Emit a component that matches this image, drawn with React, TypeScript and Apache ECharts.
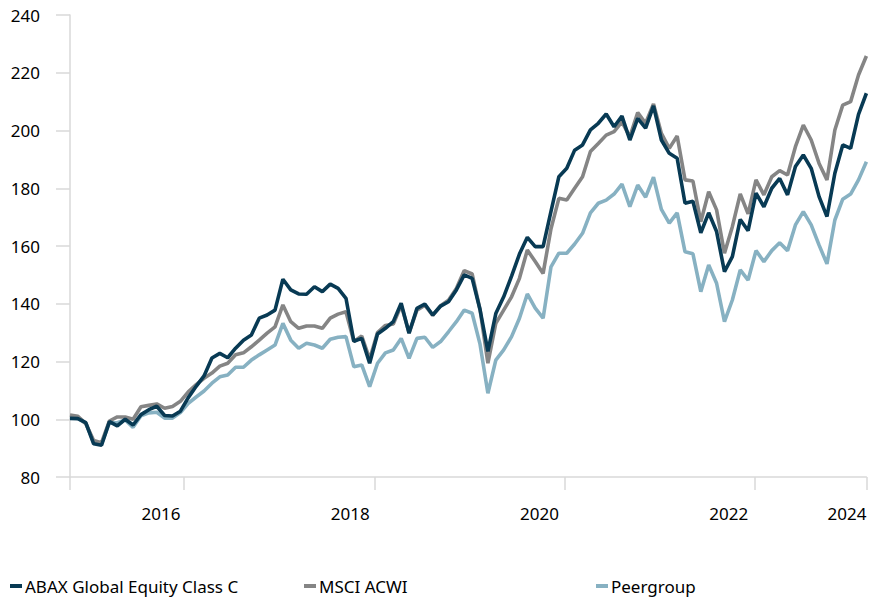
import React, { useEffect, useRef } from "react";
import * as echarts from "echarts";

const seriesNames = ["ABAX Global Equity Class C", "MSCI ACWI", "Peergroup"];

const abax = [
  100.3, 100.2, 98.8, 91.5, 91.0, 99.2, 97.7, 100.0, 98.0, 101.6, 103.3, 104.5, 101.3, 101.1, 102.8, 107.5,
  111.4, 115.0, 121.2, 122.8, 121.3, 124.6, 127.4, 129.2, 135.0, 136.1, 137.8, 148.5, 144.8, 143.4, 143.3,
  145.9, 144.2, 146.8, 145.3, 141.9, 127.0, 128.0, 119.4, 129.5, 131.5, 133.8, 140.2, 129.8, 138.4, 139.9,
  136.1, 139.2, 140.7, 144.8, 150.0, 148.8, 138.0, 123.5, 136.6, 142.4, 149.6, 157.2, 163.0, 159.8, 159.8,
  172.0, 184.0, 186.9, 193.2, 195.0, 200.2, 202.5, 205.7, 201.3, 205.0, 196.7, 204.2, 200.8, 208.5, 196.7,
  192.1, 190.4, 174.8, 175.5, 164.6, 171.5, 165.0, 151.1, 156.3, 169.2, 165.3, 178.3, 173.6, 180.0, 183.4,
  177.7, 187.5, 191.5, 186.9, 177.1, 170.2, 185.2, 195.0, 193.8, 205.6, 212.9,
];

const msci = [
  101.5, 101.0, 98.5, 92.6, 91.9, 99.4, 100.8, 100.8, 100.0, 104.3, 104.8, 105.3, 103.8, 104.4, 106.2, 109.5,
  112.0, 114.2, 116.0, 118.4, 119.4, 122.3, 123.0, 125.1, 127.4, 129.8, 132.0, 139.6, 133.8, 131.5, 132.3,
  132.3, 131.5, 135.0, 136.4, 137.2, 126.9, 128.8, 120.8, 130.0, 132.5, 133.0, 139.5, 130.0, 137.8, 139.5,
  136.0, 139.3, 141.2, 145.3, 151.5, 150.3, 138.0, 119.4, 133.2, 137.8, 142.4, 148.8, 158.6, 154.6, 150.5,
  166.0, 176.5, 175.9, 180.0, 184.0, 192.7, 195.5, 198.4, 199.6, 203.0, 197.8, 206.2, 202.5, 209.2, 199.0,
  193.8, 198.1, 182.9, 182.5, 168.4, 178.8, 172.5, 157.5, 166.7, 178.0, 171.1, 182.9, 177.7, 184.0, 186.1,
  184.6, 194.4, 201.9, 196.7, 188.6, 182.9, 200.2, 208.8, 210.0, 219.2, 225.8,
];

const peergroup = [
  100.8, 100.3, 98.6, 92.0, 91.5, 98.8, 98.8, 99.8, 97.2, 101.2, 102.2, 102.4, 100.4, 100.4, 102.3, 105.5,
  107.7, 109.8, 112.5, 114.7, 115.3, 118.0, 118.0, 120.5, 122.3, 124.0, 125.7, 133.2, 127.4, 124.6, 126.3,
  125.7, 124.6, 127.7, 128.4, 128.6, 118.2, 118.8, 111.3, 119.4, 123.0, 124.0, 128.0, 121.1, 128.0, 128.4,
  124.9, 126.9, 130.3, 133.8, 137.8, 136.7, 126.0, 109.0, 120.5, 124.0, 128.6, 135.0, 143.4, 138.5, 135.0,
  152.8, 157.5, 157.5, 160.7, 164.4, 171.5, 174.8, 175.9, 178.0, 181.4, 173.6, 181.1, 176.9, 183.8, 172.7,
  167.9, 171.5, 158.0, 157.3, 144.2, 153.4, 147.1, 133.8, 141.3, 151.7, 148.2, 158.4, 154.6, 158.4, 161.1,
  158.4, 167.3, 171.9, 167.3, 160.3, 153.8, 169.0, 176.2, 178.0, 182.9, 189.2,
];

// x-axis: month index; year labels and tick marks
const yearLabelIndex = [14, 38, 62, 86, 101];
const yearLabels = ["2016", "2018", "2020", "2022", "2024"];
const tickIndex = [0, 14.4, 38.6, 62.7, 86.8, 101];
const yTicks = { min: 80, max: 240, interval: 20 };

const colors = ["#083A54", "#858585", "#87B1C2"];

export default function App() {
  const ref = useRef<HTMLDivElement>(null);

  useEffect(() => {
    document.body.style.margin = "0";
    const chart = echarts.init(ref.current!, null, { renderer: "svg" });
    const font = "'Noto Sans', sans-serif";
    const toPairs = (arr: number[]) => arr.map((v, i) => [i, v]);
    const all = [abax, msci, peergroup];
    const axisColor = "#D9D9D9";

    const legendLefts = [10, 304, 596];

    chart.setOption({
      animation: false,
      grid: { left: 70, right: 11.6, top: 15, bottom: 121, containLabel: false },
      legend: seriesNames.map((n, k) => ({
        data: [n],
        left: legendLefts[k],
        top: 576,
        padding: 0,
        icon: "rect",
        itemWidth: 12,
        itemHeight: 4,
        selectedMode: false,
        textStyle: { fontFamily: font, fontSize: 17, color: "#000", padding: [0, 0, 0, -2], lineHeight: 20 },
      })),
      xAxis: {
        type: "value",
        min: 0,
        max: abax.length - 1,
        splitLine: { show: false },
        axisLine: { show: true, lineStyle: { color: axisColor, width: 1.5 } },
        axisTick: {
          show: true,
          length: 13,
          customValues: tickIndex,
          lineStyle: { color: axisColor, width: 1.5 },
        },
        axisLabel: {
          customValues: yearLabelIndex,
          formatter: (v: number) => {
            const k = yearLabelIndex.indexOf(Math.round(v));
            return k >= 0 ? yearLabels[k] : "";
          },
          align: "right",
          margin: 28,
          fontFamily: font,
          fontSize: 17,
          color: "#000",
          hideOverlap: false,
        },
      },
      yAxis: {
        type: "value",
        min: yTicks.min,
        max: yTicks.max,
        interval: yTicks.interval,
        splitLine: { show: false },
        axisLine: { show: true, lineStyle: { color: axisColor, width: 1.5 } },
        axisTick: { show: true, length: 14, lineStyle: { color: axisColor, width: 1.5 } },
        axisLabel: { margin: 30, fontFamily: font, fontSize: 17, color: "#000" },
      },
      series: [2, 1, 0].map((k) => ({
        name: seriesNames[k],
        type: "line",
        data: toPairs(all[k]),
        showSymbol: false,
        symbol: "none",
        color: colors[k],
        lineStyle: { color: colors[k], width: 3.6 },
        z: 10 - k,
      })),
    });
    return () => chart.dispose();
  }, []);

  return (
    <div
      ref={ref}
      style={{ position: "absolute", left: 0, top: 0, width: 878, height: 598, background: "#fff" }}
    />
  );
}
